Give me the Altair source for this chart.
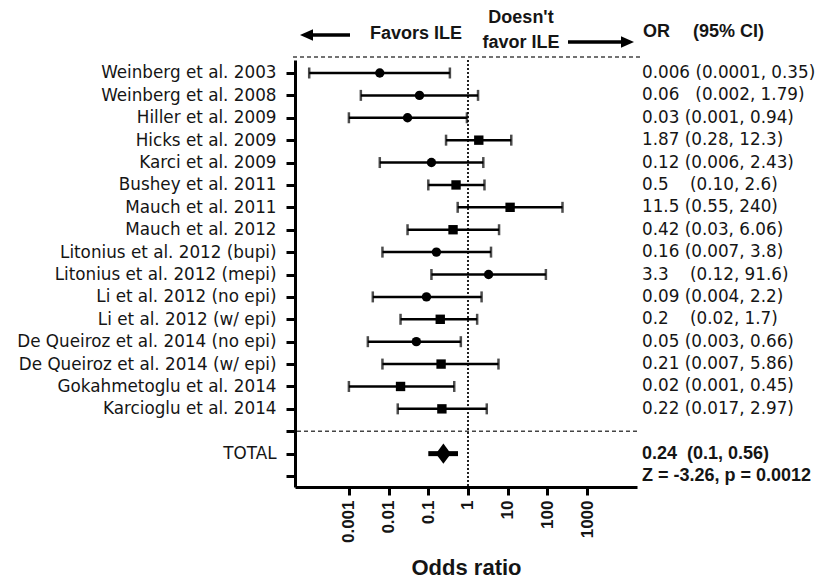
import json
import altair as alt
import pandas as pd

NB = "\u00a0"

studies = [
    "Weinberg et al. 2003", "Weinberg et al. 2008", "Hiller et al. 2009",
    "Hicks et al. 2009", "Karci et al. 2009", "Bushey et al. 2011",
    "Mauch et al. 2011", "Mauch et al. 2012", "Litonius et al. 2012 (bupi)",
    "Litonius et al. 2012 (mepi)", "Li et al. 2012 (no epi)", "Li et al. 2012 (w/ epi)",
    "De Queiroz et al. 2014 (no epi)", "De Queiroz et al. 2014 (w/ epi)",
    "Gokahmetoglu et al. 2014", "Karcioglu et al. 2014",
]
or_vals = [0.006, 0.06, 0.03, 1.87, 0.12, 0.5, 11.5, 0.42, 0.16, 3.3, 0.09, 0.2, 0.05, 0.21, 0.02, 0.22]
ci_low = [0.0001, 0.002, 0.001, 0.28, 0.006, 0.10, 0.55, 0.03, 0.007, 0.12, 0.004, 0.02, 0.003, 0.007, 0.001, 0.017]
ci_high = [0.35, 1.79, 0.94, 12.3, 2.43, 2.6, 240, 6.06, 3.8, 91.6, 2.2, 1.7, 0.66, 5.86, 0.45, 2.97]
marker_group = ["round", "round", "round", "box", "round", "box", "box", "box",
                "round", "round", "round", "box", "round", "box", "box", "box"]
estimate_text = [
    "0.006 (0.0001, 0.35)",
    "0.06" + NB * 3 + "(0.002, 1.79)",
    "0.03 (0.001, 0.94)",
    "1.87 (0.28, 12.3)",
    "0.12 (0.006, 2.43)",
    "0.5" + NB * 4 + "(0.10, 2.6)",
    "11.5 (0.55, 240)",
    "0.42 (0.03, 6.06)",
    "0.16 (0.007, 3.8)",
    "3.3" + NB * 4 + "(0.12, 91.6)",
    "0.09 (0.004, 2.2)",
    "0.2" + NB * 4 + "(0.02, 1.7)",
    "0.05 (0.003, 0.66)",
    "0.21 (0.007, 5.86)",
    "0.02 (0.001, 0.45)",
    "0.22 (0.017, 2.97)",
]
total_or, total_lo, total_hi = 0.24, 0.1, 0.56
total_text = "0.24" + NB * 2 + "(0.1, 0.56)"
z_text = "Z = -3.26, p = 0.0012"
x_ticks = [0.001, 0.01, 0.1, 1, 10, 100, 1000]

rows = list(range(1, len(studies) + 1))
sep_row = len(studies) + 1
total_row = sep_row + 1
z_row = total_row + 1

df = pd.DataFrame({"study": studies, "row": rows, "or": or_vals, "lo": ci_low,
                   "hi": ci_high, "group": marker_group, "est": estimate_text})
df_total = pd.DataFrame({"row": [total_row], "or": [total_or], "lo": [total_lo],
                         "hi": [total_hi], "txt": [total_text]})
df_z = pd.DataFrame({"row": [z_row], "txt": [z_text]})
df_ref = pd.DataFrame({"v": [1]})
df_sep = pd.DataFrame({"row": [sep_row]})
one = pd.DataFrame({"k": [0]})

labels = [""] * (z_row + 1)
for r, s in zip(rows, studies):
    labels[r] = s
labels[total_row] = "TOTAL"
label_expr = json.dumps(labels) + "[datum.value]"

W, H = 342, 427
REG = "DejaVu Sans"
BOLD = "Liberation Sans"
INK = "#151515"

xscale = alt.Scale(type="log", domain=[4.39e-5, 18070], nice=False)
xaxis = alt.Axis(values=x_ticks, labelExpr="format(datum.value, '~g')", labelAngle=270,
                 labelFont=BOLD, labelFontWeight="bold", labelFontSize=17, labelColor=INK,
                 labelPadding=5, tickSize=8, tickWidth=3, tickColor="black",
                 domainWidth=3, domainColor="black", grid=False, title="Odds ratio",
                 titleFont=BOLD, titleFontWeight="bold", titleFontSize=22, titleColor=INK,
                 titleY=80, titleBaseline="middle")
yscale = alt.Scale(domain=[0.42, 19.49], reverse=True, nice=False, zero=False)
yaxis = alt.Axis(values=list(range(1, z_row + 1)), labelExpr=label_expr, labelFont=REG,
                 labelFontSize=16.8, labelColor=INK, labelPadding=10, labelLimit=500,
                 tickSize=9, tickWidth=3, tickColor="black", domainWidth=3,
                 domainColor="black", grid=False, title=None)


def X(f):
    return alt.X(f"{f}:Q", scale=xscale, axis=xaxis)


Y = alt.Y("row:Q", scale=yscale, axis=yaxis)

bars = alt.Chart(df).mark_rule(color="black", strokeWidth=2.5).encode(x=X("lo"), x2="hi", y=Y)
cap_lo = alt.Chart(df).mark_tick(orient="vertical", size=11, thickness=2.5, color="black").encode(x=X("lo"), y=Y)
cap_hi = alt.Chart(df).mark_tick(orient="vertical", size=11, thickness=2.5, color="black").encode(x=X("hi"), y=Y)
pts = alt.Chart(df).mark_point(filled=True, color="black", opacity=1, size=88).encode(
    x=X("or"), y=Y,
    shape=alt.Shape("group:N", scale=alt.Scale(domain=["round", "box"], range=["circle", "square"]), legend=None),
)
ref = alt.Chart(df_ref).mark_rule(color="#222", strokeWidth=2, strokeDash=[2, 2]).encode(x=X("v"))
sep = alt.Chart(df_sep).mark_rule(color="#444", strokeWidth=1.5, strokeDash=[4, 3]).encode(y=Y)
top_sep = alt.Chart(one).mark_rule(color="#444", strokeWidth=1.5, strokeDash=[4, 3]).encode(
    x=alt.value(-2), x2=alt.value(345), y=alt.value(-3))
tot_bar = alt.Chart(df_total).mark_rule(color="black", strokeWidth=5).encode(x=X("lo"), x2="hi", y=Y)
tot_dia = alt.Chart(df_total).mark_point(filled=True, color="black", opacity=1, size=225,
                                         shape="M0,-1.35L1,0L0,1.35L-1,0Z").encode(x=X("or"), y=Y)
est = alt.Chart(df).mark_text(align="left", baseline="middle", font=REG, fontSize=16.8, color=INK).encode(
    x=alt.value(347), y=Y, text="est:N")
tot_txt = alt.Chart(df_total).mark_text(align="left", baseline="middle", font=BOLD, fontWeight="bold",
                                        fontSize=18, color=INK).encode(x=alt.value(347), y=Y, text="txt:N")
z_txt = alt.Chart(df_z).mark_text(align="left", baseline="middle", font=BOLD, fontWeight="bold",
                                  fontSize=18, color=INK).encode(x=alt.value(347), y=Y, text="txt:N")


def head_text(txt, x, y, align="center"):
    return alt.Chart(one).mark_text(align=align, baseline="middle", font=BOLD, fontWeight="bold",
                                    fontSize=18, color=INK).encode(
        x=alt.value(x), y=alt.value(y), text=alt.value(txt))


headers = [
    head_text("Favors ILE", 121, -26),
    head_text("Doesn't", 226, -42),
    head_text("favor ILE", 226, -17),
    head_text("OR", 348, -28, "left"),
    head_text("(95% CI)", 398, -28, "left"),
]
arrow_l = alt.Chart(one).mark_rule(color="black", strokeWidth=3.5).encode(
    x=alt.value(15), x2=alt.value(55), y=alt.value(-25))
head_l = alt.Chart(one).mark_point(filled=True, color="black", opacity=1, size=169,
                                   shape="M-1,0L1,-0.9L1,0.9Z").encode(x=alt.value(11.5), y=alt.value(-25))
arrow_r = alt.Chart(one).mark_rule(color="black", strokeWidth=3.5).encode(
    x=alt.value(273), x2=alt.value(329), y=alt.value(-18))
head_r = alt.Chart(one).mark_point(filled=True, color="black", opacity=1, size=169,
                                   shape="M1,0L-1,-0.9L-1,0.9Z").encode(x=alt.value(332.5), y=alt.value(-18))

chart = alt.layer(
    ref, sep, top_sep, bars, cap_lo, cap_hi, pts, tot_bar, tot_dia, est, tot_txt, z_txt,
    arrow_l, head_l, arrow_r, head_r, *headers,
).properties(
    width=W, height=H,
    padding={"left": 295, "top": 60, "right": 180, "bottom": 91},
    autosize=alt.AutoSizeParams(type="none"),
    background="white",
).configure_view(stroke=None)

chart.save("out.html", embed_options={"renderer": "svg", "actions": False})
